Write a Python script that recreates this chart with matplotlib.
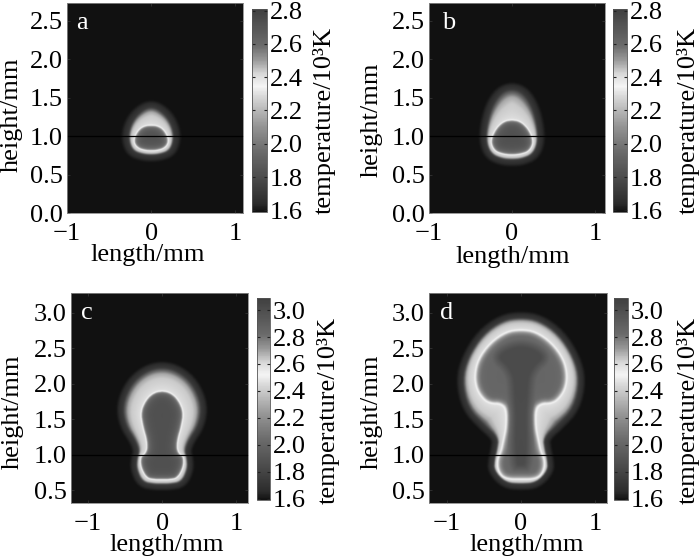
import matplotlib
matplotlib.use('Agg')
import matplotlib.pyplot as plt
import numpy as np
from matplotlib.colors import LinearSegmentedColormap
from matplotlib.path import Path

## data
# flame front, right half, top to bottom (x mm, y mm), mirrored later
front_a_x = [0, 0.08, 0.15, 0.20, 0.20, 0.15, 0.07, 0]
front_a_y = [1.14, 1.13, 1.08, 0.98, 0.90, 0.84, 0.815, 0.81]
glow_a_x = [0, 0.10, 0.21, 0.27, 0.26, 0.21, 0.10, 0]
glow_a_y = [1.38, 1.34, 1.22, 1.05, 0.90, 0.80, 0.76, 0.75]

front_b_x = [0, 0.10, 0.19, 0.245, 0.25, 0.20, 0.10, 0]
front_b_y = [1.21, 1.19, 1.10, 0.98, 0.89, 0.80, 0.765, 0.755]
glow_b_x = [0, 0.14, 0.25, 0.31, 0.31, 0.25, 0.12, 0]
glow_b_y = [1.62, 1.56, 1.37, 1.10, 0.90, 0.76, 0.70, 0.69]

front_c_x = [0, 0.12, 0.22, 0.29, 0.26, 0.21, 0.20, 0.24, 0.29, 0.29, 0.21, 0.10, 0]
front_c_y = [1.90, 1.87, 1.77, 1.60, 1.40, 1.22, 1.08, 1.00, 0.97, 0.83, 0.67, 0.65, 0.65]
glow_c_x = [0, 0.22, 0.42, 0.54, 0.50, 0.36, 0.31, 0.34, 0.35, 0.27, 0.10, 0]
glow_c_y = [2.24, 2.18, 2.00, 1.70, 1.42, 1.20, 1.05, 0.95, 0.80, 0.61, 0.58, 0.58]

front_d_x = [0, 0.20, 0.42, 0.58, 0.63, 0.60, 0.50, 0.40, 0.28, 0.20, 0.20, 0.24, 0.27, 0.32, 0.32, 0.26, 0.16, 0]
front_d_y = [2.77, 2.74, 2.58, 2.35, 2.12, 1.92, 1.77, 1.72, 1.72, 1.65, 1.40, 1.20, 1.05, 0.94, 0.80, 0.69, 0.65, 0.65]
glow_d_x = [0, 0.25, 0.52, 0.72, 0.80, 0.72, 0.50, 0.31, 0.33, 0.36, 0.37, 0.21, 0]
glow_d_y = [2.94, 2.90, 2.70, 2.37, 2.05, 1.66, 1.42, 1.24, 1.07, 0.93, 0.78, 0.60, 0.58]
# darker column inside the d mushroom
core_d_x = [0, 0.28, 0.36, 0.20, 0.13, 0.13, 0]
core_d_y = [2.60, 2.50, 2.35, 2.20, 2.00, 0.80, 0.80]

# temperature as a fraction of the colour range, across the glow
glow_s = [0, 0.07, 0.55, 0.76, 0.90, 1.00, 1.25]
glow_v = [0.62, 0.58, 0.54, 0.46, 0.26, 0.10, 0.0]

# colour bar greys
cmap_pos = [0, 0.04, 0.15, 0.30, 0.42, 0.50, 0.57, 0.62, 0.68, 0.75, 0.82, 1]
cmap_grey = [0.07, 0.17, 0.28, 0.42, 0.58, 0.72, 0.85, 0.96, 0.85, 0.60, 0.42, 0.25]

ticks_top = [0.0, 0.5, 1.0, 1.5, 2.0, 2.5]
ticks_bottom = [0.5, 1.0, 1.5, 2.0, 2.5, 3.0]
ticks_x = [-1, 0, 1]
cbar_top = [1.6, 1.8, 2.0, 2.2, 2.4, 2.6, 2.8]
cbar_bottom = [1.6, 1.8, 2.0, 2.2, 2.4, 2.6, 2.8, 3.0]

plt.rcParams['font.family'] = ['Liberation Serif', 'DejaVu Serif']
plt.rcParams['font.size'] = 19

W, H = 700, 560
grey = LinearSegmentedColormap.from_list(
    'flame', [(p, (g, g, g)) for p, g in zip(cmap_pos, cmap_grey)])

## helpers
def box(x0, y0, x1, y1):
    # pixel box to figure coords
    return [x0 / W, 1 - y1 / H, (x1 - x0) / W, (y1 - y0) / H]

def mirror(x, y):
    x, y = np.array(x, float), np.array(y, float)
    poly = np.column_stack([np.r_[x, -x[-2:0:-1]], np.r_[y, y[-2:0:-1]]])
    # round the corners off
    for _ in range(2):
        nxt = np.roll(poly, -1, axis=0)
        poly = np.column_stack([0.75 * poly + 0.25 * nxt, 0.25 * poly + 0.75 * nxt]).reshape(-1, 2)
    return poly

def dist(px, py, poly):
    # distance from every grid point to a closed polygon
    best = np.full(px.shape, np.inf)
    for p, q in zip(poly, np.roll(poly, -1, axis=0)):
        d = q - p
        t = ((px - p[0]) * d[0] + (py - p[1]) * d[1]) / (d @ d)
        t = np.clip(t, 0, 1)
        best = np.minimum(best, np.hypot(px - p[0] - t * d[0], py - p[1] - t * d[1]))
    return best

def soften(z):
    # the print is a little blurred
    k = np.array([1, 3, 6, 8, 6, 3, 1], float)
    k /= k.sum()
    z = np.apply_along_axis(lambda r: np.convolve(np.pad(r, 3, mode='edge'), k, 'valid'), 0, z)
    z = np.apply_along_axis(lambda r: np.convolve(np.pad(r, 3, mode='edge'), k, 'valid'), 1, z)
    return z

def field(xlim, ylim, front, glow, core=None):
    xs = np.linspace(xlim[0], xlim[1], 420)
    ys = np.linspace(ylim[0], ylim[1], 500)
    px, py = np.meshgrid(xs, ys)
    pts = np.column_stack([px.ravel(), py.ravel()])
    in_front = Path(front).contains_points(pts).reshape(px.shape)
    in_glow = Path(glow).contains_points(pts).reshape(px.shape)
    df = dist(px, py, front)
    dg = dist(px, py, glow)

    # outside the front: 0 at the front, 1 at the glow edge, above 1 beyond it
    s = df / (df + dg + 1e-9)
    s = np.where(in_glow, s, 1 + dg / 0.1 * 0.25)
    v = np.interp(s, glow_s, glow_v)

    # inside the front
    inner = 0.62 + (0.84 - 0.62) * (1 - np.exp(-df / 0.04))
    if core is not None:
        in_core = Path(core).contains_points(pts).reshape(px.shape)
        dc = dist(px, py, core)
        inner = inner + 0.11 * np.where(in_core, 0.5 + 0.5 * np.clip(dc / 0.06, 0, 1),
                                        0.5 - 0.5 * np.clip(dc / 0.06, 0, 1))
    else:
        inner = inner + 0.09
    return soften(np.where(in_front, inner, v))

def panel(ax_box, cbar_box, xlim, ylim, vmax, front, glow, yticks, cticks, core=None):
    ax = fig.add_axes(box(*ax_box))
    # fraction of the range to temperature
    temp = 1.59 + field(xlim, ylim, front, glow, core) * (vmax - 1.59)
    im = ax.imshow(temp, origin='lower', aspect='auto',
                   extent=[xlim[0], xlim[1], ylim[0], ylim[1]], cmap=grey,
                   vmin=1.59, vmax=vmax, interpolation='bilinear')
    ax.axhline(1.0, color='black', lw=0.9)
    ax.set_xticks(ticks_x)
    ax.set_yticks(yticks)
    ax.set_yticklabels(['%.1f' % t for t in yticks])
    ax.tick_params(direction='in', length=2.5, width=0.6, color='#333333',
                   top=True, right=True)
    ax.tick_params(axis='x', pad=7)
    ax.tick_params(axis='y', pad=3)
    for sp in ax.spines.values():
        sp.set_color('#888888')
        sp.set_linewidth(0.6)

    cax = fig.add_axes(box(*cbar_box))
    cb = fig.colorbar(im, cax=cax)
    cb.set_ticks(cticks)
    cb.set_ticklabels(['%.1f' % t for t in cticks])
    cax.tick_params(direction='in', length=2.5, width=0.8, color='#222222', pad=2, left=True)
    cb.outline.set_edgecolor('#555555')
    cb.outline.set_linewidth(0.6)
    return ax

## plot!
fig = plt.figure(figsize=(7, 5.6), dpi=100)

panel((67, 3, 243, 213), (252, 9, 267, 212), (-1.0, 1.09), (0, 2.73), 2.81,
      mirror(front_a_x, front_a_y), mirror(glow_a_x, glow_a_y), ticks_top, cbar_top)
panel((429, 3, 605, 213), (613, 9, 627, 212), (-1.0, 1.12), (0, 2.73), 2.81,
      mirror(front_b_x, front_b_y), mirror(glow_b_x, glow_b_y), ticks_top, cbar_top)
panel((71, 293, 248, 503), (257, 298, 270, 500), (-1.23, 1.16), (0.32, 3.28), 3.09,
      mirror(front_c_x, front_c_y), mirror(glow_c_x, glow_c_y), ticks_bottom, cbar_bottom)
panel((429, 293, 607, 503), (614, 298, 628, 500), (-1.24, 1.16), (0.32, 3.28), 3.09,
      mirror(front_d_x, front_d_y), mirror(glow_d_x, glow_d_y), ticks_bottom, cbar_bottom,
      core=mirror(core_d_x, core_d_y))

## pretty~
def label(x, y, text, **kw):
    fig.text(x / W, 1 - y / H, text, ha='center', va='center', **kw)

for x, y, t in [(82, 23, 'a'), (449, 23, 'b'), (87, 313, 'c'), (447, 313, 'd')]:
    label(x, y, t, color='white')
for x, y in [(148, 255), (513, 257), (167, 545), (527, 545)]:
    label(x, y, 'length/mm')
for x, y in [(12, 115), (372, 120), (13, 412), (372, 412)]:
    label(x, y, 'height/mm', rotation=90)
for x, y in [(324, 120), (688, 120), (328, 410), (688, 410)]:
    label(x, y, 'temperature/10³K', rotation=90)

plt.savefig('out.png', dpi=100)
